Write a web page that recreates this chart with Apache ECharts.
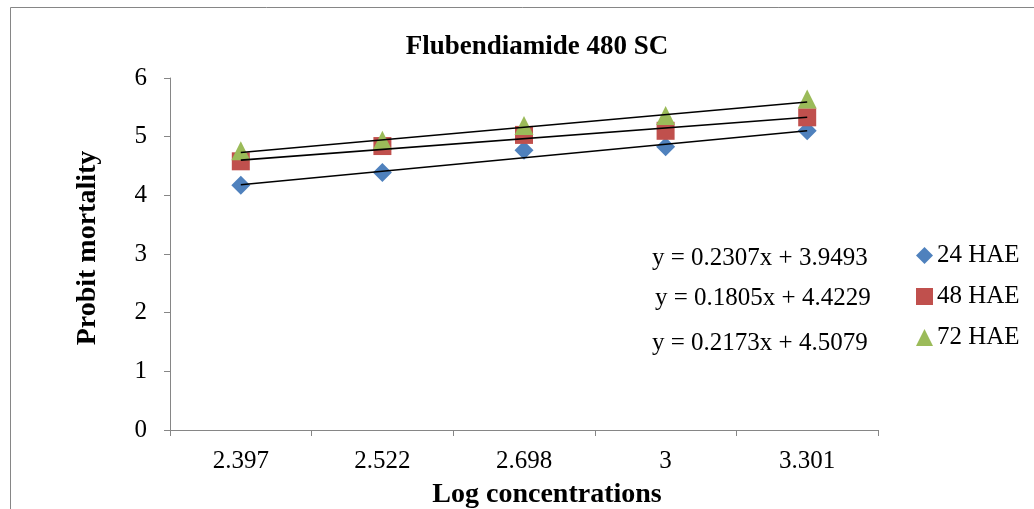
<!DOCTYPE html>
<html>
<head>
<meta charset="utf-8">
<script src="https://cdn.jsdelivr.net/npm/echarts@6/dist/echarts.min.js"></script>
<style>
html,body{margin:0;padding:0;background:#fff;}
#chart{width:1034px;height:509px;}
</style>
</head>
<body>
<div id="chart"></div>
<script>
const categories = ['2.397', '2.522', '2.698', '3', '3.301'];
const seriesNames = ['24 HAE', '48 HAE', '72 HAE'];
const hae24 = [4.17, 4.39, 4.77, 4.83, 5.10];
const hae48 = [4.58, 4.84, 5.03, 5.10, 5.33];
const hae72 = [4.76, 4.94, 5.19, 5.36, 5.64];
// trendline end values (first and last category)
const trend24 = [4.18, 5.10];
const trend48 = [4.60, 5.33];
const trend72 = [4.73, 5.59];
const equations = ['y = 0.2307x + 3.9493', 'y = 0.1805x + 4.4229', 'y = 0.2173x + 4.5079'];
const yTicks = [0, 1, 2, 3, 4, 5, 6];

const FONT = '"Liberation Serif", "Times New Roman", serif';
const colors = ['#4F81BD', '#C0504D', '#9BBB59'];
const symbols = ['diamond', 'rect', 'triangle'];
const sizes = [19, 18, 19];
const values = [hae24, hae48, hae72];
const trends = [trend24, trend48, trend72];

const chart = echarts.init(document.getElementById('chart'));

const series = [];
values.forEach((v, i) => {
  series.push({
    name: seriesNames[i],
    type: 'scatter',
    data: v,
    symbol: symbols[i],
    symbolSize: sizes[i],
    itemStyle: { color: colors[i], opacity: 1 },
    z: 2 + i
  });
});
trends.forEach((t, i) => {
  series.push({
    name: 'trend' + i,
    type: 'line',
    data: [[0, t[0]], [categories.length - 1, t[1]]],
    symbol: 'none',
    lineStyle: { color: '#000', width: 1.6 },
    silent: true,
    z: 10
  });
});

const graphics = [
  { type: 'rect', shape: { x: 10.5, y: 7.5, width: 1100, height: 600 },
    style: { fill: 'none', stroke: '#868686', lineWidth: 1 }, silent: true },
  { type: 'text', x: 547, y: 495,
    style: { text: 'Log concentrations', font: 'bold 28px ' + FONT, fill: '#000',
      textAlign: 'center', textVerticalAlign: 'middle' } }
];
const eqPos = [[652, 258], [655, 298], [652, 343]];
equations.forEach((e, i) => {
  graphics.push({ type: 'text', x: eqPos[i][0], y: eqPos[i][1],
    style: { text: e, font: '25px ' + FONT, fill: '#000', textAlign: 'left', textVerticalAlign: 'middle' } });
});

chart.setOption({
  animation: false,
  backgroundColor: '#fff',
  title: {
    text: 'Flubendiamide 480 SC',
    left: 532, top: 29, textAlign: 'center',
    textStyle: { fontFamily: FONT, fontWeight: 'bold', fontSize: 27, color: '#000' }
  },
  legend: {
    orient: 'vertical',
    left: 916, top: 243, padding: 0,
    itemWidth: 17, itemHeight: 17, itemGap: 16,
    data: seriesNames.map((n, i) => ({ name: n, icon: symbols[i] })),
    textStyle: { fontFamily: FONT, fontSize: 25, color: '#000', lineHeight: 25, padding: [0, 0, 0, -1] }
  },
  grid: { left: 170, right: 156, top: 78, bottom: 79, containLabel: false },
  xAxis: {
    type: 'category',
    data: categories,
    boundaryGap: true,
    axisLine: { lineStyle: { color: '#868686', width: 1 } },
    axisTick: { show: true, length: 6, lineStyle: { color: '#868686' } },
    axisLabel: { fontFamily: FONT, fontSize: 25, color: '#000', margin: 19 },
    splitLine: { show: false }
  },
  yAxis: {
    type: 'value',
    min: 0, max: 6, interval: 1,
    name: 'Probit mortality',
    nameLocation: 'middle',
    nameGap: 68,
    nameTextStyle: { fontFamily: FONT, fontWeight: 'bold', fontSize: 28, color: '#000', padding: [0, 0, 0, 12] },
    axisLine: { show: true, lineStyle: { color: '#868686', width: 1 } },
    axisTick: { show: true, length: 6, lineStyle: { color: '#868686' } },
    axisLabel: { fontFamily: FONT, fontSize: 25, color: '#000', margin: 23,
      formatter: v => yTicks.includes(v) ? String(v) : '' },
    splitLine: { show: false }
  },
  graphic: graphics,
  series: series
});
</script>
</body>
</html>
